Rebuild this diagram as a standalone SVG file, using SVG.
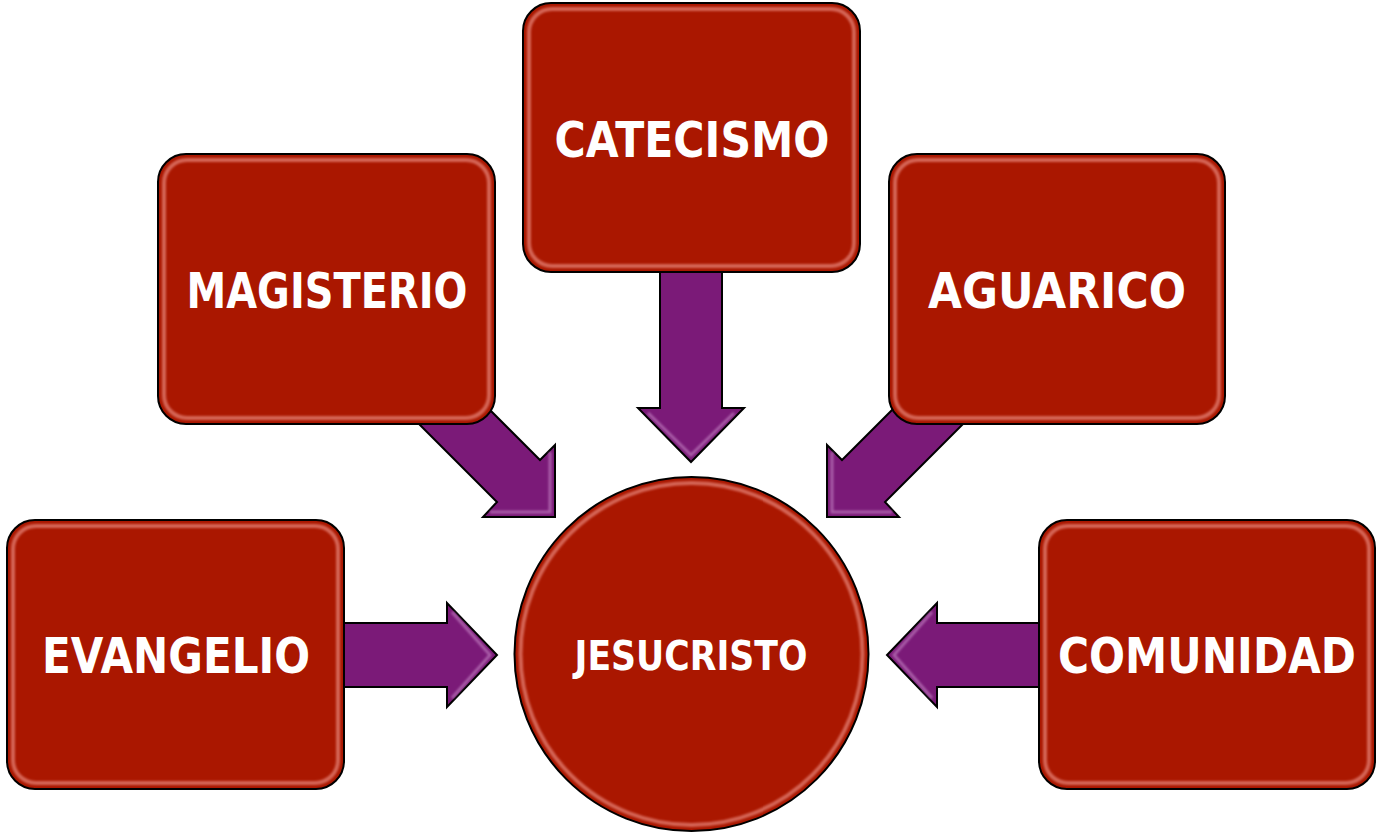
<svg xmlns="http://www.w3.org/2000/svg" width="1377" height="833" viewBox="0 0 1377 833">
<defs>
<style>
.box{fill:#AA1700;stroke:#000;stroke-width:2}
.bev{fill:none;stroke:#F29A90;stroke-width:4;opacity:0.6;filter:url(#soft)}
.arr{fill:#7B1A78;stroke:#000;stroke-width:2;stroke-linejoin:miter}
.abev{fill:none;stroke:#C88AC8;stroke-width:3;opacity:0.6;filter:url(#soft)}
.lbl{font-family:"DejaVu Sans","Liberation Sans",sans-serif;font-weight:bold;fill:#fff;text-anchor:middle}
</style>
<filter id="soft" x="-10%" y="-10%" width="120%" height="120%"><feGaussianBlur stdDeviation="1.3"/></filter>
</defs>
<g id="connectors">
<g id="arrow-magisterio">
<polygon class="arr" points="440,360 540,460 555,445 555,517 483,517 497,502 397,402"/>
<polyline class="abev" points="550,452 550,512 490,512"/>
</g>
<g id="arrow-aguarico">
<polygon class="arr" points="942,360 842,460 827,445 827,517 899,517 885,502 985,402"/>
<polyline class="abev" points="832,452 832,512 892,512"/>
</g>
<g id="arrow-catecismo">
<polygon class="arr" points="660,268 722,268 722,408 744,408 691,462 638,408 660,408"/>
<polyline class="abev" points="648,413 691,455 734,413"/>
</g>
<g id="arrow-evangelio">
<polygon class="arr" points="340,623 447,623 447,603 497,655 447,707 447,687 340,687"/>
<polyline class="abev" points="452,612 490,655 452,698"/>
</g>
<g id="arrow-comunidad">
<polygon class="arr" points="1043,623 937,623 937,603 887,655 937,707 937,687 1043,687"/>
<polyline class="abev" points="932,612 894,655 932,698"/>
</g>
</g>
<g id="node-catecismo">
<rect class="box" x="523" y="3" width="337" height="269" rx="28"/>
<rect class="bev" x="529" y="9" width="325" height="257" rx="23"/>
<text class="lbl" x="692" y="157" font-size="50" textLength="275" lengthAdjust="spacingAndGlyphs">CATECISMO</text>
</g>
<g id="node-magisterio">
<rect class="box" x="158" y="154" width="337" height="270" rx="28"/>
<rect class="bev" x="164" y="160" width="325" height="258" rx="23"/>
<text class="lbl" x="327" y="308" font-size="50" textLength="281" lengthAdjust="spacingAndGlyphs">MAGISTERIO</text>
</g>
<g id="node-aguarico">
<rect class="box" x="889" y="154" width="336" height="270" rx="28"/>
<rect class="bev" x="895" y="160" width="324" height="258" rx="23"/>
<text class="lbl" x="1057" y="308" font-size="50" textLength="258" lengthAdjust="spacingAndGlyphs">AGUARICO</text>
</g>
<g id="node-evangelio">
<rect class="box" x="7" y="520" width="337" height="269" rx="28"/>
<rect class="bev" x="13" y="526" width="325" height="257" rx="23"/>
<text class="lbl" x="176" y="673" font-size="50" textLength="268" lengthAdjust="spacingAndGlyphs">EVANGELIO</text>
</g>
<g id="node-comunidad">
<rect class="box" x="1039" y="520" width="336" height="269" rx="28"/>
<rect class="bev" x="1045" y="526" width="324" height="257" rx="23"/>
<text class="lbl" x="1207" y="673" font-size="50" textLength="298" lengthAdjust="spacingAndGlyphs">COMUNIDAD</text>
</g>
<g id="node-jesucristo">
<circle class="box" cx="691.5" cy="654" r="177"/>
<circle class="bev" cx="691.5" cy="654" r="171"/>
<text class="lbl" x="691" y="670" font-size="40" textLength="233" lengthAdjust="spacingAndGlyphs">JESUCRISTO</text>
</g>
</svg>
